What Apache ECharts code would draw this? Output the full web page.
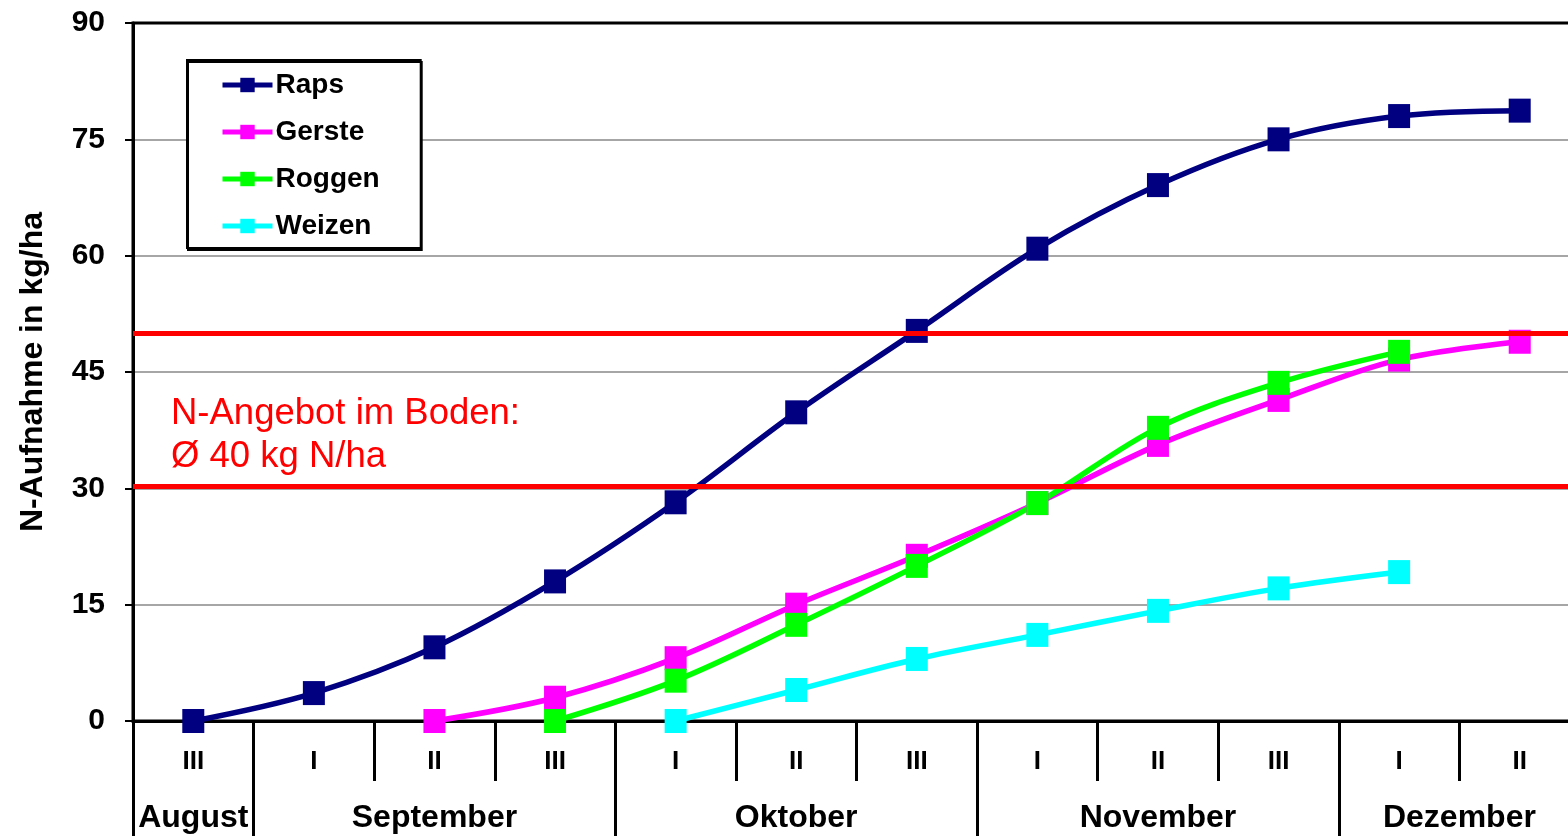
<!DOCTYPE html>
<html>
<head>
<meta charset="utf-8">
<script src="https://cdn.jsdelivr.net/npm/echarts@6/dist/echarts.min.js"></script>
<style>
  html, body { margin: 0; padding: 0; background: #fff; overflow: hidden; }
  /* Zeichenfläche etwas breiter als das Fenster: rechter Rahmen liegt außerhalb */
  #chart { width: 1580px; height: 836px; }
</style>
</head>
<body>
<div id="chart"></div>
<script>
// Zeitraster: Dekaden von August III bis Dezember II
const periods = ['Aug-III', 'Sep-I', 'Sep-II', 'Sep-III', 'Okt-I', 'Okt-II', 'Okt-III',
                 'Nov-I', 'Nov-II', 'Nov-III', 'Dez-I', 'Dez-II'];
const decadeLabels = ['III', 'I', 'II', 'III', 'I', 'II', 'III', 'I', 'II', 'III', 'I', 'II'];
const monthNames = ['August', 'September', 'Oktober', 'November', 'Dezember'];
const monthStart = [0, 1, 4, 7, 10];
const monthLength = [1, 3, 3, 3, 2];

// N-Aufnahme in kg/ha je Kultur
const raps   = [0, 3.6, 9.5, 18.0, 28.2, 39.8, 50.3, 60.9, 69.1, 75.0, 78.0, 78.7];
const gerste = [null, null, 0, 3.0, 8.1, 15.0, 21.3, 28.1, 35.6, 41.4, 46.6, 48.9];
const roggen = [null, null, null, 0, 5.2, 12.4, 20.0, 28.1, 37.8, 43.6, 47.6, null];
const weizen = [null, null, null, null, 0, 4.0, 8.0, 11.1, 14.2, 17.1, 19.2, null];

// N-Angebot im Boden (Spanne um Ø 40 kg N/ha)
const bodenSpanne = [50, 30.3];

const yTicks = { min: 0, max: 90, interval: 15 };

const chart = echarts.init(document.getElementById('chart'));

const gridLeft = 133, gridRight = 0;
const bandWidth = (chart.getWidth() - gridLeft - gridRight) / periods.length;

// Monatsbeschriftung: mittig unter den Dekaden des Monats
const monthLabelAt = {};
monthNames.forEach((m, k) => {
  const center = monthStart[k] + (monthLength[k] - 1) / 2;
  const idx = Math.floor(center);
  monthLabelAt[idx] = { name: m, shift: center - idx };
});
const monthTickAt = new Set(monthStart);

// Oberste Gitterlinie schwarz als Rahmen, übrige grau
const splitColors = [];
for (let v = yTicks.min; v <= yTicks.max; v += yTicks.interval) {
  splitColors.push(v === yTicks.max ? '#000000' : '#a6a6a6');
}

const font = '"Liberation Sans", Arial, sans-serif';

function lineSeries(name, data, color) {
  return {
    name: name,
    type: 'line',
    data: data,
    smooth: 0.35,
    symbol: 'rect',
    symbolSize: [22, 24],
    lineStyle: { color: color, width: 5.5 },
    itemStyle: { color: color },
    z: 3
  };
}

chart.setOption({
  animation: false,
  backgroundColor: '#ffffff',
  grid: {
    left: gridLeft, right: gridRight, top: 23, bottom: 115,
    show: true, borderColor: '#000', borderWidth: 3, backgroundColor: 'transparent'
  },
  legend: {
    data: ['Raps', 'Gerste', 'Roggen', 'Weizen'],
    orient: 'vertical',
    left: 187, top: 60,
    padding: [11, 41, 8, 33],
    itemWidth: 50, itemHeight: 18, itemGap: 19,
    backgroundColor: '#fff',
    borderColor: '#000', borderWidth: 2,
    shadowColor: '#000', shadowOffsetX: 1, shadowOffsetY: 2, shadowBlur: 0,
    textStyle: { fontFamily: font, fontSize: 28, fontWeight: 'bold', color: '#000', padding: [0, 0, 0, -2] },
    lineStyle: { width: 5 },
    itemStyle: { borderWidth: 0 }
  },
  xAxis: [
    {
      type: 'category',
      data: periods,
      position: 'bottom',
      boundaryGap: true,
      axisLine: { show: true, lineStyle: { color: '#000', width: 3 } },
      axisTick: { show: true, interval: 0, length: 60, lineStyle: { color: '#000', width: 3 } },
      axisLabel: {
        interval: 0, margin: 28,
        formatter: (v, i) => decadeLabels[i],
        fontFamily: font, fontSize: 26, fontWeight: 'bold', color: '#000'
      },
      splitLine: { show: false }
    },
    {
      type: 'category',
      data: periods,
      position: 'bottom',
      boundaryGap: true,
      axisLine: { show: false },
      axisTick: {
        show: true, length: 115,
        interval: (i) => monthTickAt.has(i),
        lineStyle: { color: '#000', width: 3 }
      },
      axisLabel: {
        interval: 0, margin: 81,
        formatter: (v, i) => {
          const m = monthLabelAt[i];
          if (!m) return '';
          return m.shift > 0 ? '{s|' + m.name + '}' : m.name;
        },
        rich: {
          s: {
            fontFamily: font, fontSize: 32, fontWeight: 'bold', color: '#000',
            padding: [0, 0, 0, bandWidth]
          }
        },
        fontFamily: font, fontSize: 32, fontWeight: 'bold', color: '#000'
      },
      splitLine: { show: false }
    }
  ],
  yAxis: {
    type: 'value',
    min: yTicks.min, max: yTicks.max, interval: yTicks.interval,
    name: 'N-Aufnahme in kg/ha',
    nameLocation: 'middle',
    nameGap: 84,
    nameRotate: 90,
    nameTextStyle: { fontFamily: font, fontSize: 32, fontWeight: 'bold', color: '#000' },
    axisLine: { show: true, lineStyle: { color: '#000', width: 3 } },
    axisTick: { show: true, length: 8, lineStyle: { color: '#000', width: 2 } },
    axisLabel: { margin: 28, fontFamily: font, fontSize: 30, fontWeight: 'bold', color: '#000' },
    splitLine: { show: true, lineStyle: { color: splitColors, width: 2 } }
  },
  series: [
    lineSeries('Raps', raps, '#000080'),
    lineSeries('Gerste', gerste, '#ff00ff'),
    lineSeries('Roggen', roggen, '#00ff00'),
    lineSeries('Weizen', weizen, '#00ffff'),
    {
      name: 'N-Angebot',
      type: 'line',
      data: [],
      z: 6,
      markLine: {
        silent: true,
        symbol: ['none', 'none'],
        label: { show: false },
        lineStyle: { color: '#ff0000', width: 5, type: 'solid' },
        data: bodenSpanne.map(v => ({ yAxis: v }))
      }
    }
  ],
  graphic: [
    {
      type: 'text',
      left: 171, top: 392,
      z: 10,
      style: {
        text: 'N-Angebot im Boden:\nØ 40 kg N/ha',
        fontFamily: font, fontSize: 36.5, lineHeight: 43,
        fill: '#ff0000'
      }
    }
  ]
});
</script>
</body>
</html>
